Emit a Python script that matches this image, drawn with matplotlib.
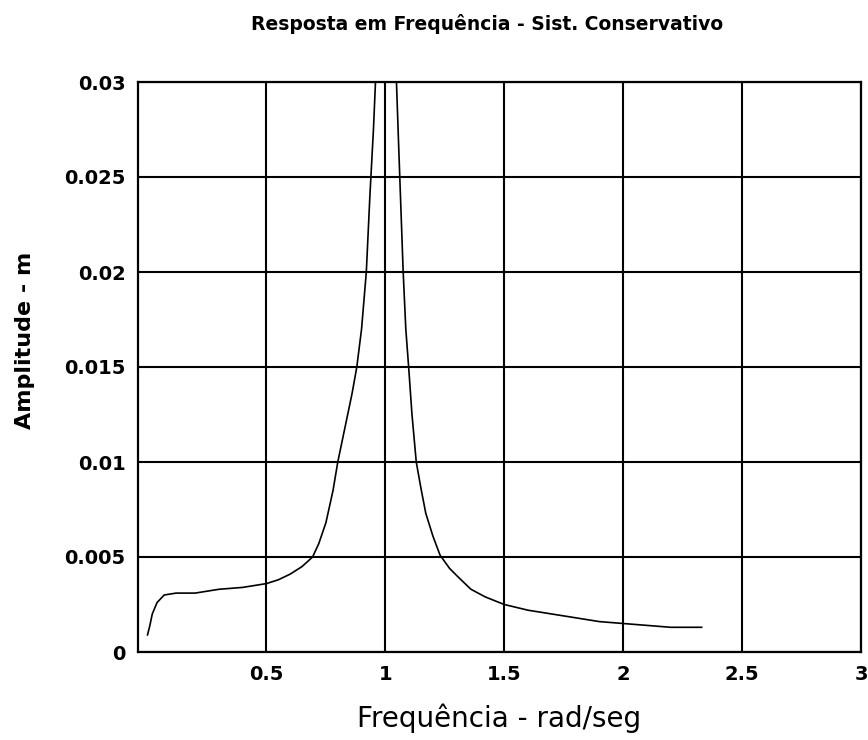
import matplotlib
matplotlib.use("Agg")
import matplotlib.pyplot as plt

# Frequency response data
freq_left = [0.0, 0.01, 0.02, 0.04, 0.07, 0.12, 0.20, 0.30, 0.40, 0.50, 0.55, 0.60,
             0.65, 0.694, 0.72, 0.75, 0.78, 0.80, 0.83, 0.86, 0.88, 0.90, 0.92,
             0.935, 0.95, 0.962]
amp_left = [0.0009, 0.0014, 0.0020, 0.0026, 0.0030, 0.0031, 0.0031, 0.0033, 0.0034,
            0.0036, 0.0038, 0.0041, 0.0045, 0.0050, 0.0057, 0.0068, 0.0085, 0.0100,
            0.0118, 0.0136, 0.0150, 0.0170, 0.0200, 0.0240, 0.0275, 0.0310]
freq_right = [1.044, 1.055, 1.065, 1.075, 1.086, 1.098, 1.112, 1.13, 1.15, 1.17,
              1.20, 1.23, 1.27, 1.31, 1.36, 1.42, 1.50, 1.60, 1.75, 1.90, 2.00,
              2.10, 2.20, 2.33]
amp_right = [0.0310, 0.0270, 0.0235, 0.0200, 0.0170, 0.0150, 0.0125, 0.0100, 0.0086,
             0.0073, 0.0061, 0.0051, 0.0044, 0.0039, 0.0033, 0.0029, 0.0025, 0.0022,
             0.0019, 0.0016, 0.0015, 0.0014, 0.0013, 0.0013]

x_ticks = [0.5, 1, 1.5, 2, 2.5, 3]
x_tick_labels = ["0.5", "1", "1.5", "2", "2.5", "3"]
y_ticks = [0, 0.005, 0.01, 0.015, 0.02, 0.025, 0.03]
y_tick_labels = ["0", "0.005", "0.01", "0.015", "0.02", "0.025", "0.03"]

title = "Resposta em Frequência - Sist. Conservativo"
xlabel = "Frequência - rad/seg"
ylabel = "Amplitude - m"

fig = plt.figure(figsize=(8.68, 7.40), dpi=100)
ax = fig.add_axes([138/868, 1-652/740, (861-138)/868, (652-82)/740])

ax.plot(freq_left, amp_left, color="black", lw=1.2, clip_on=True)
ax.plot(freq_right, amp_right, color="black", lw=1.2, clip_on=True)

ax.set_xlim(-0.04, 3.0)
ax.set_ylim(0, 0.03)
ax.set_xticks(x_ticks)
ax.set_xticklabels(x_tick_labels)
ax.set_yticks(y_ticks)
ax.set_yticklabels(y_tick_labels)
ax.tick_params(length=0, pad=9, labelsize=14)
for lab in ax.get_xticklabels() + ax.get_yticklabels():
    lab.set_fontweight("bold")

ax.grid(True, color="black", lw=1.5, ls="-")
ax.set_axisbelow(True)
for sp in ax.spines.values():
    sp.set_linewidth(1.6)
    sp.set_color("black")

fig.text(487/868, 1-24/740, title, ha="center", va="center",
         fontsize=13.5, fontweight="bold")
fig.text(499/868, 1-718/740, xlabel, ha="center", va="center", fontsize=20)
fig.text(25/868, 1-340/740, ylabel, ha="center", va="center", rotation=90,
         fontsize=16, fontweight="bold")

fig.savefig("out.png", dpi=100)
